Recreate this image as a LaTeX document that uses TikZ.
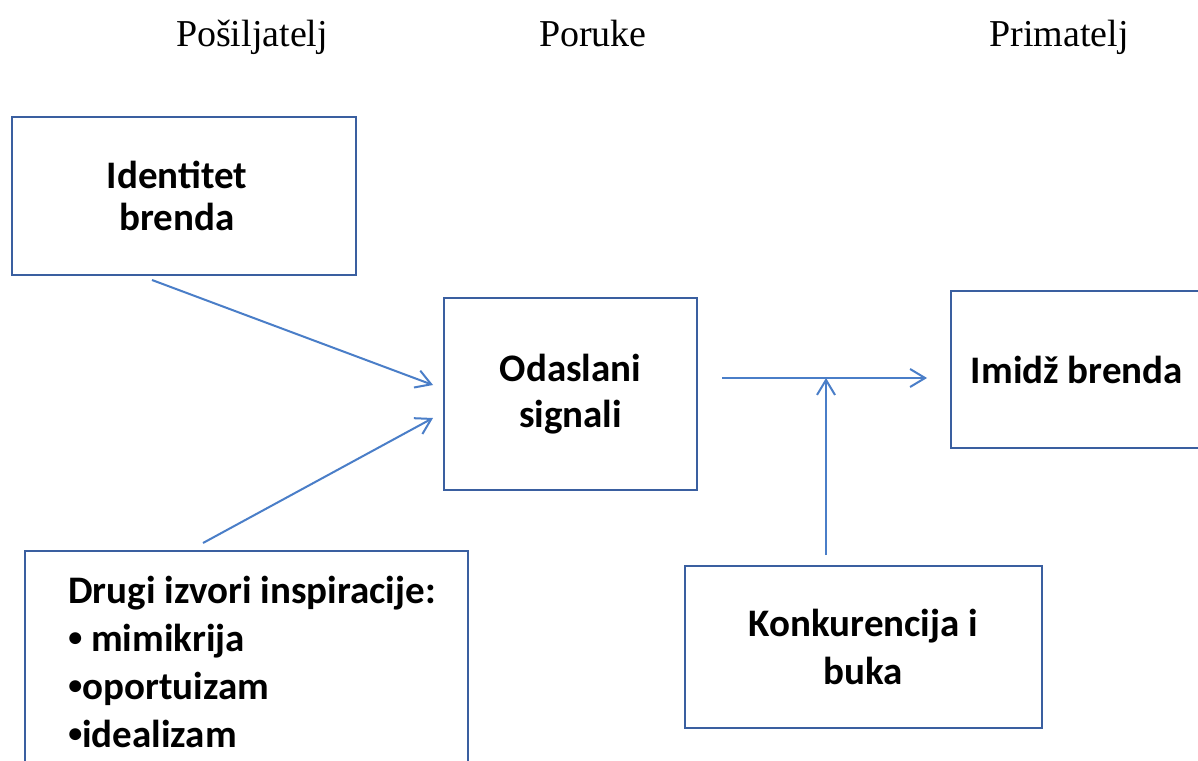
\documentclass[tikz,border=0pt]{standalone}
\usepackage{fontspec}
\setmainfont{Liberation Serif}
\setsansfont{Carlito}
\usetikzlibrary{arrows.meta}
\definecolor{boxblue}{RGB}{58,95,160}
\definecolor{arrblue}{RGB}{74,126,200}
\newcommand{\malatocka}{\raisebox{2.5pt}{\fontsize{14}{14}\selectfont•}}
\tikzset{
  box/.style={draw=boxblue,line width=1.25pt,align=center,inner sep=0pt,
    font=\sffamily\bfseries\fontsize{19.5}{23}\selectfont},
  boxtext/.style={inner sep=0pt,align=left,
    font=\sffamily\bfseries\fontsize{19.5}{24}\selectfont},
  head/.style={anchor=base,font=\fontsize{19}{22}\selectfont},
  arr/.style={draw=arrblue,line width=1pt,-{Straight Barb[length=7.5pt,width=9pt]}}
}
\begin{document}
\begin{tikzpicture}[x=0.5pt,y=-0.5pt]
\clip (0,0) rectangle (1198,760);
\fill[white] (0,0) rectangle (1198,760);
% column titles
\node[head] (posilj) at (252,46) {Pošiljatelj};
\node[head] (poruke) at (593,46) {Poruke};
\node[head] (primat) at (1059,46) {Primatelj};
% boxes
\node[box,minimum width=172pt,minimum height=79pt,
  font=\sffamily\bfseries\fontsize{19.5}{21}\selectfont] (ident) at (184,196) {Identitet\hspace*{7pt}\\brenda\hspace*{7pt}};
\node[box,minimum width=126.5pt,minimum height=96pt] (odas) at (570.5,394) {Odaslani\\signali};
\node[box,minimum width=126pt,minimum height=78.5pt] (imidz) at (1077,369.5) {\raisebox{-3pt}{Imidž brenda}};
\node[box,minimum width=178.5pt,minimum height=81pt,
  font=\sffamily\bfseries\fontsize{19.5}{24}\selectfont] (konk) at (863.5,647) {Konkurencija i\\buka};
\node[box,minimum width=221.5pt,minimum height=111pt] (drugi) at (246.5,662) {};
\node[boxtext,anchor=west] (drugitxt) at (68,662)
  {Drugi izvori inspiracije:\\\malatocka\ mimikrija\\\malatocka oportuizam\\\malatocka idealizam};
% arrow ends
\coordinate (identout) at (152,280);
\coordinate (drugiout) at (203,543);
\coordinate (odasin1) at (433,385);
\coordinate (odasin2) at (433,418);
\coordinate (odasout) at (722,378);
\coordinate (imidzin) at (927,378);
\coordinate (konkout) at (826,555);
\coordinate (spoj) at (826,378);
\draw[arr] (identout) -- (odasin1);
\draw[arr] (drugiout) -- (odasin2);
\draw[arr] (odasout) -- (imidzin);
\draw[arr] (konkout) -- (spoj);
\end{tikzpicture}
\end{document}
